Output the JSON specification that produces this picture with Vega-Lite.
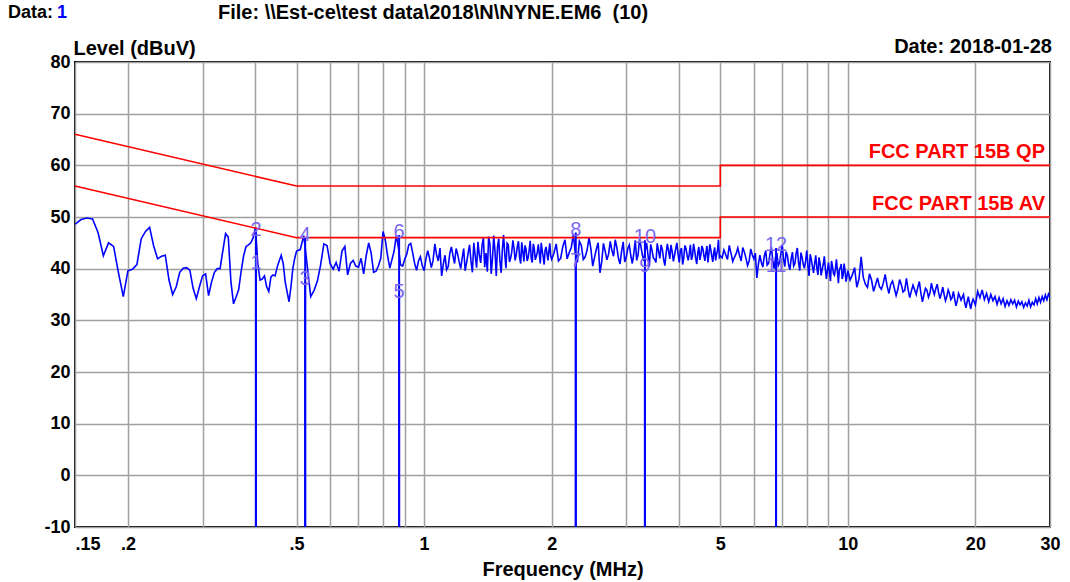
{
"$schema": "https://vega.github.io/schema/vega-lite/v6.json",
"width": 975, "height": 465,
"autosize": {"type": "none"},
"padding": {"left": 75, "top": 62, "right": 20, "bottom": 55},
"background": "white",
"config": {
  "font": "Liberation Sans",
  "view": {"stroke": "#000000", "strokeWidth": 2},
  "axis": {"gridColor": "#a0a0a0", "gridWidth": 1.5, "gridOpacity": 1, "ticks": false, "domain": false, "labelFont": "Liberation Sans", "labelFontSize": 18, "labelFontWeight": "bold", "labelColor": "#000000", "titleFont": "Liberation Sans", "titleFontSize": 20, "titleFontWeight": "bold", "titleColor": "#000000"}
},
"datasets": {
"trace": [
{"f":0.150,"v":48.6},{"f":0.155,"v":49.5},{"f":0.160,"v":49.8},{"f":0.165,"v":49.6},{"f":0.170,"v":47.0},{"f":0.175,"v":42.5},{"f":0.180,"v":45.0},{"f":0.185,"v":44.3},{"f":0.190,"v":39.2},{"f":0.195,"v":34.6},
{"f":0.200,"v":39.6},{"f":0.205,"v":39.9},{"f":0.210,"v":40.8},{"f":0.215,"v":45.8},{"f":0.220,"v":47.2},{"f":0.225,"v":48.0},{"f":0.230,"v":44.4},{"f":0.235,"v":41.9},{"f":0.240,"v":42.4},{"f":0.245,"v":42.6},
{"f":0.250,"v":37.8},{"f":0.255,"v":35.0},{"f":0.260,"v":36.5},{"f":0.265,"v":39.3},{"f":0.270,"v":40.1},{"f":0.275,"v":40.2},{"f":0.280,"v":39.7},{"f":0.285,"v":36.2},{"f":0.290,"v":34.2},{"f":0.295,"v":36.5},
{"f":0.300,"v":38.6},{"f":0.305,"v":39.0},{"f":0.310,"v":34.8},{"f":0.315,"v":37.4},{"f":0.320,"v":39.3},{"f":0.325,"v":40.0},{"f":0.330,"v":40.0},{"f":0.335,"v":43.5},{"f":0.340,"v":46.8},{"f":0.345,"v":46.1},
{"f":0.350,"v":37.5},{"f":0.355,"v":33.2},{"f":0.360,"v":34.5},{"f":0.365,"v":35.9},{"f":0.370,"v":39.5},{"f":0.375,"v":42.5},{"f":0.380,"v":44.3},{"f":0.385,"v":44.6},{"f":0.390,"v":45.0},{"f":0.395,"v":46.0},
{"f":0.400,"v":48.0},{"f":0.405,"v":41.0},{"f":0.410,"v":37.8},{"f":0.415,"v":38.0},{"f":0.420,"v":38.6},{"f":0.425,"v":36.5},{"f":0.430,"v":35.6},{"f":0.435,"v":38.4},{"f":0.440,"v":38.8},{"f":0.445,"v":38.6},
{"f":0.450,"v":40.3},{"f":0.455,"v":41.5},{"f":0.460,"v":42.6},{"f":0.465,"v":41.0},{"f":0.470,"v":37.5},{"f":0.475,"v":35.5},{"f":0.480,"v":33.6},{"f":0.485,"v":36.5},{"f":0.490,"v":40.0},{"f":0.495,"v":42.0},
{"f":0.500,"v":43.4},{"f":0.51,"v":43.7},{"f":0.52,"v":46.4},{"f":0.53,"v":40.5},{"f":0.54,"v":34.6},{"f":0.55,"v":35.8},{"f":0.56,"v":37.6},{"f":0.57,"v":40.8},{"f":0.58,"v":44.8},{"f":0.59,"v":44.5},
{"f":0.60,"v":41.0},{"f":0.61,"v":39.9},{"f":0.62,"v":41.2},{"f":0.63,"v":39.5},{"f":0.64,"v":43.4},{"f":0.65,"v":44.3},{"f":0.66,"v":38.8},{"f":0.67,"v":41.0},{"f":0.68,"v":41.6},{"f":0.69,"v":40.5},
{"f":0.70,"v":40.3},{"f":0.71,"v":42.0},{"f":0.72,"v":39.0},{"f":0.73,"v":42.5},{"f":0.74,"v":45.0},{"f":0.75,"v":43.0},{"f":0.76,"v":39.3},{"f":0.77,"v":39.5},{"f":0.78,"v":40.5},{"f":0.79,"v":42.0},
{"f":0.80,"v":47.2},{"f":0.81,"v":45.5},{"f":0.82,"v":42.5},{"f":0.83,"v":40.1},{"f":0.84,"v":41.8},{"f":0.85,"v":43.5},{"f":0.86,"v":46.5},{"f":0.87,"v":44.0},{"f":0.88,"v":40.7},{"f":0.89,"v":40.5},
{"f":0.90,"v":41.8},{"f":0.91,"v":42.8},{"f":0.92,"v":44.6},{"f":0.93,"v":44.9},{"f":0.94,"v":43.0},{"f":0.95,"v":41.0},{"f":0.96,"v":39.7},{"f":0.97,"v":41.5},{"f":0.98,"v":42.3},{"f":0.99,"v":40.6},
{"f":1.00,"v":39.6},{"f":1.02,"v":43.5},{"f":1.04,"v":40.2},{"f":1.06,"v":44.8},{"f":1.08,"v":41.5},{"f":1.10,"v":38.6},{"f":1.12,"v":42.6},{"f":1.14,"v":40.4},{"f":1.16,"v":44.2},{"f":1.18,"v":41.0},
{"f":1.20,"v":42.8},{"f":1.22,"v":40.0},{"f":1.24,"v":43.9},{"f":1.26,"v":41.2},{"f":1.28,"v":44.6},{"f":1.30,"v":39.3},{"f":1.32,"v":42.5},{"f":1.34,"v":45.2},{"f":1.36,"v":41.1},{"f":1.38,"v":46.0},
{"f":1.40,"v":43.0},{"f":1.42,"v":46.2},{"f":1.44,"v":39.0},{"f":1.46,"v":46.4},{"f":1.48,"v":38.6},{"f":1.50,"v":45.8},{"f":1.52,"v":39.2},{"f":1.54,"v":46.5},{"f":1.56,"v":40.1},{"f":1.58,"v":44.6},
{"f":1.60,"v":42.0},{"f":1.62,"v":45.5},{"f":1.64,"v":41.6},{"f":1.66,"v":44.3},{"f":1.68,"v":42.2},{"f":1.70,"v":45.1},{"f":1.72,"v":41.4},{"f":1.74,"v":43.8},{"f":1.76,"v":42.1},{"f":1.78,"v":45.4},
{"f":1.80,"v":41.2},{"f":1.82,"v":43.9},{"f":1.84,"v":42.4},{"f":1.86,"v":44.7},{"f":1.88,"v":41.0},{"f":1.90,"v":43.5},{"f":1.92,"v":40.8},{"f":1.94,"v":44.2},{"f":1.96,"v":41.6},{"f":1.98,"v":44.9},
{"f":2.00,"v":41.8},{"f":2.05,"v":44.8},{"f":2.10,"v":42.0},{"f":2.15,"v":45.6},{"f":2.20,"v":43.1},{"f":2.25,"v":46.6},{"f":2.30,"v":41.2},{"f":2.35,"v":44.5},{"f":2.40,"v":42.3},{"f":2.45,"v":46.0},
{"f":2.50,"v":40.5},{"f":2.55,"v":43.8},{"f":2.60,"v":39.2},{"f":2.65,"v":44.9},{"f":2.70,"v":41.7},{"f":2.75,"v":45.3},{"f":2.80,"v":42.4},{"f":2.85,"v":44.1},{"f":2.90,"v":40.9},{"f":2.95,"v":45.2},
{"f":3.00,"v":42.2},{"f":3.05,"v":44.6},{"f":3.10,"v":41.0},{"f":3.15,"v":45.5},{"f":3.20,"v":42.8},{"f":3.25,"v":44.2},{"f":3.30,"v":41.5},{"f":3.35,"v":45.0},{"f":3.40,"v":40.4},{"f":3.45,"v":43.6},
{"f":3.50,"v":41.8},{"f":3.55,"v":44.9},{"f":3.60,"v":42.0},{"f":3.65,"v":43.7},{"f":3.70,"v":40.6},{"f":3.75,"v":44.8},{"f":3.80,"v":41.9},{"f":3.85,"v":43.3},{"f":3.90,"v":42.6},{"f":3.95,"v":45.0},
{"f":4.00,"v":41.2},{"f":4.05,"v":44.0},{"f":4.10,"v":42.1},{"f":4.15,"v":43.9},{"f":4.20,"v":41.6},{"f":4.25,"v":44.6},{"f":4.30,"v":42.5},{"f":4.35,"v":43.5},{"f":4.40,"v":40.9},{"f":4.45,"v":44.2},
{"f":4.50,"v":42.7},{"f":4.55,"v":43.8},{"f":4.60,"v":41.5},{"f":4.65,"v":44.4},{"f":4.70,"v":42.9},{"f":4.75,"v":43.6},{"f":4.80,"v":41.3},{"f":4.85,"v":44.1},{"f":4.90,"v":42.8},{"f":4.95,"v":45.6},
{"f":5.00,"v":42.5},{"f":5.1,"v":43.6},{"f":5.2,"v":41.8},{"f":5.3,"v":43.0},{"f":5.4,"v":42.2},{"f":5.5,"v":44.0},{"f":5.6,"v":41.5},{"f":5.7,"v":43.2},{"f":5.8,"v":40.6},{"f":5.9,"v":43.8},
{"f":6.0,"v":41.9},{"f":6.1,"v":38.2},{"f":6.2,"v":42.6},{"f":6.3,"v":40.3},{"f":6.4,"v":43.5},{"f":6.5,"v":41.0},{"f":6.6,"v":44.2},{"f":6.7,"v":40.0},{"f":6.8,"v":43.0},{"f":6.9,"v":41.2},
{"f":7.0,"v":44.6},{"f":7.1,"v":40.4},{"f":7.2,"v":42.5},{"f":7.3,"v":39.8},{"f":7.4,"v":43.2},{"f":7.5,"v":41.0},{"f":7.6,"v":44.0},{"f":7.7,"v":39.6},{"f":7.8,"v":42.2},{"f":7.9,"v":40.1},
{"f":8.0,"v":43.5},{"f":8.1,"v":38.6},{"f":8.2,"v":41.8},{"f":8.3,"v":39.2},{"f":8.4,"v":42.6},{"f":8.5,"v":38.8},{"f":8.6,"v":41.0},{"f":8.7,"v":39.9},{"f":8.8,"v":42.4},{"f":8.9,"v":38.0},
{"f":9.0,"v":41.2},{"f":9.1,"v":37.6},{"f":9.2,"v":40.5},{"f":9.3,"v":38.7},{"f":9.4,"v":41.8},{"f":9.5,"v":37.2},{"f":9.6,"v":40.2},{"f":9.7,"v":38.0},{"f":9.8,"v":41.0},{"f":9.9,"v":37.5},
{"f":10.0,"v":39.6},{"f":10.25,"v":38.8},{"f":10.5,"v":36.4},{"f":10.75,"v":42.3},{"f":11.0,"v":37.0},{"f":11.25,"v":39.0},{"f":11.5,"v":35.6},{"f":11.75,"v":38.2},{"f":12.0,"v":36.0},{"f":12.25,"v":38.9},
{"f":12.5,"v":35.2},{"f":12.75,"v":37.6},{"f":13.0,"v":34.8},{"f":13.25,"v":37.9},{"f":13.5,"v":35.5},{"f":13.75,"v":38.1},{"f":14.0,"v":34.4},{"f":14.25,"v":36.8},{"f":14.5,"v":35.0},{"f":14.75,"v":37.5},
{"f":15.0,"v":33.6},{"f":15.25,"v":36.2},{"f":15.5,"v":34.5},{"f":15.75,"v":37.2},{"f":16.0,"v":35.0},{"f":16.25,"v":37.0},{"f":16.5,"v":34.2},{"f":16.75,"v":36.4},{"f":17.0,"v":33.8},{"f":17.25,"v":35.9},
{"f":17.5,"v":34.0},{"f":17.75,"v":35.6},{"f":18.0,"v":32.8},{"f":18.25,"v":35.2},{"f":18.5,"v":33.9},{"f":18.75,"v":35.0},{"f":19.0,"v":32.4},{"f":19.25,"v":34.6},{"f":19.5,"v":32.2},{"f":19.75,"v":34.1},
{"f":20.0,"v":33.0},{"f":20.25,"v":35.6},{"f":20.5,"v":34.4},{"f":20.75,"v":35.9},{"f":21.0,"v":34.0},{"f":21.25,"v":35.2},{"f":21.5,"v":33.6},{"f":21.75,"v":35.0},{"f":22.0,"v":33.8},{"f":22.25,"v":34.6},
{"f":22.5,"v":33.1},{"f":22.75,"v":34.4},{"f":23.0,"v":33.2},{"f":23.25,"v":34.2},{"f":23.5,"v":32.7},{"f":23.75,"v":33.8},{"f":24.0,"v":32.9},{"f":24.25,"v":34.0},{"f":24.5,"v":33.2},{"f":24.75,"v":33.9},
{"f":25.0,"v":32.6},{"f":25.25,"v":33.7},{"f":25.5,"v":33.0},{"f":25.75,"v":33.6},{"f":26.0,"v":32.5},{"f":26.25,"v":33.4},{"f":26.5,"v":32.8},{"f":26.75,"v":33.9},{"f":27.0,"v":32.6},{"f":27.25,"v":33.5},
{"f":27.5,"v":33.0},{"f":27.75,"v":34.2},{"f":28.0,"v":33.2},{"f":28.25,"v":34.4},{"f":28.5,"v":33.5},{"f":28.75,"v":34.6},{"f":29.0,"v":33.8},{"f":29.25,"v":34.9},{"f":29.5,"v":34.0},{"f":29.75,"v":35.1},
{"f":30.0,"v":34.5},
{"f":1.01,"v":41.9},{"f":1.03,"v":42.0},{"f":1.05,"v":41.6},{"f":1.07,"v":42.7},{"f":1.09,"v":44.0},{"f":1.11,"v":40.9},{"f":1.13,"v":39.8},{"f":1.15,"v":43.0},{"f":1.17,"v":42.5},{"f":1.19,"v":43.9},
{"f":1.21,"v":41.3},{"f":1.23,"v":42.1},{"f":1.25,"v":39.6},{"f":1.27,"v":43.0},{"f":1.29,"v":41.5},{"f":1.31,"v":45.0},{"f":1.33,"v":40.2},{"f":1.35,"v":42.6},{"f":1.37,"v":44.5},{"f":1.39,"v":40.3},
{"f":1.41,"v":39.4},{"f":1.43,"v":44.8},{"f":1.45,"v":42.0},{"f":1.47,"v":43.3},{"f":1.49,"v":44.2},{"f":1.51,"v":41.4},{"f":1.53,"v":43.7},{"f":1.55,"v":42.8},{"f":1.57,"v":44.9},{"f":1.59,"v":41.3},
{"f":1.61,"v":43.2},{"f":1.63,"v":44.0},{"f":1.65,"v":42.7},{"f":1.67,"v":45.3},{"f":1.69,"v":41.0},{"f":1.71,"v":43.3},{"f":1.73,"v":44.5},{"f":1.75,"v":41.5},{"f":1.77,"v":43.6},{"f":1.79,"v":42.0},
{"f":1.81,"v":44.8},{"f":1.83,"v":41.7},{"f":1.85,"v":43.2},{"f":1.87,"v":42.9},{"f":1.89,"v":45.0},{"f":1.91,"v":42.3},{"f":1.93,"v":43.6},{"f":1.95,"v":42.9},{"f":1.97,"v":43.4},{"f":1.99,"v":42.5},
{"f":2.025,"v":43.0},{"f":2.075,"v":41.5},{"f":2.125,"v":44.3},{"f":2.175,"v":41.9},{"f":2.225,"v":44.1},{"f":2.275,"v":43.0},{"f":2.325,"v":45.3},{"f":2.375,"v":41.8},{"f":2.425,"v":43.6},{"f":2.475,"v":43.9},
{"f":2.525,"v":42.2},{"f":2.575,"v":45.0},{"f":2.625,"v":41.3},{"f":2.675,"v":43.4},{"f":2.725,"v":42.8},{"f":2.775,"v":43.5},{"f":2.825,"v":45.6},{"f":2.875,"v":42.0},{"f":2.925,"v":43.4},{"f":2.975,"v":41.3},
{"f":3.025,"v":43.9},{"f":3.075,"v":42.5},{"f":3.125,"v":42.9},{"f":3.175,"v":41.6},{"f":3.225,"v":45.8},{"f":3.275,"v":42.6},{"f":3.325,"v":43.6},{"f":3.375,"v":42.7},{"f":3.425,"v":44.7},{"f":3.475,"v":42.1},
{"f":3.525,"v":41.2},{"f":3.575,"v":43.4},{"f":3.625,"v":44.6},{"f":3.675,"v":41.8},{"f":3.725,"v":42.9},{"f":3.775,"v":43.5},{"f":3.825,"v":44.6},{"f":3.875,"v":41.4},{"f":3.925,"v":43.9},{"f":3.975,"v":42.8},
{"f":4.025,"v":43.5},{"f":4.075,"v":40.8},{"f":4.125,"v":44.5},{"f":4.175,"v":42.6},{"f":4.225,"v":42.9},{"f":4.275,"v":41.7},{"f":4.325,"v":44.8},{"f":4.375,"v":42.0},{"f":4.425,"v":43.1},{"f":4.475,"v":41.7},
{"f":4.525,"v":44.4},{"f":4.575,"v":42.5},{"f":4.625,"v":43.1},{"f":4.675,"v":41.2},{"f":4.725,"v":44.7},{"f":4.775,"v":42.4},{"f":4.825,"v":43.0},{"f":4.875,"v":41.6},{"f":4.925,"v":43.5},{"f":4.975,"v":42.2},
{"f":5.05,"v":42.1},{"f":5.15,"v":42.7},{"f":5.25,"v":44.5},{"f":5.35,"v":41.4},{"f":5.45,"v":42.9},{"f":5.55,"v":42.6},{"f":5.65,"v":44.1},{"f":5.75,"v":42.0},{"f":5.85,"v":41.5},{"f":5.95,"v":42.7},
{"f":6.05,"v":43.0},{"f":6.15,"v":40.8},{"f":6.25,"v":41.2},{"f":6.35,"v":42.4},{"f":6.45,"v":40.7},{"f":6.55,"v":42.8},{"f":6.65,"v":41.6},{"f":6.75,"v":42.2},{"f":6.85,"v":40.6},{"f":6.95,"v":42.8},
{"f":7.05,"v":41.9},{"f":7.15,"v":43.3},{"f":7.25,"v":40.7},{"f":7.35,"v":41.9},{"f":7.45,"v":40.5},{"f":7.55,"v":42.9},{"f":7.65,"v":41.2},{"f":7.75,"v":43.1},{"f":7.85,"v":40.8},{"f":7.95,"v":41.5},
{"f":8.05,"v":40.6},{"f":8.15,"v":42.8},{"f":8.25,"v":40.4},{"f":8.35,"v":41.0},{"f":8.45,"v":40.1},{"f":8.55,"v":42.2},{"f":8.65,"v":38.7},{"f":8.75,"v":40.8},{"f":8.85,"v":40.0},{"f":8.95,"v":39.6},
{"f":9.05,"v":39.4},{"f":9.15,"v":41.5},{"f":9.25,"v":39.0},{"f":9.35,"v":40.0},{"f":9.45,"v":39.5},{"f":9.55,"v":39.8},{"f":9.65,"v":40.9},{"f":9.75,"v":38.8},{"f":9.85,"v":39.6},{"f":9.95,"v":38.4},
{"f":10.125,"v":37.8},{"f":10.375,"v":40.2},{"f":10.625,"v":38.0},{"f":10.875,"v":38.3},{"f":11.125,"v":36.4},{"f":11.375,"v":37.8},{"f":11.625,"v":36.9},{"f":11.875,"v":36.5},{"f":12.125,"v":37.2},{"f":12.375,"v":36.7},
{"f":12.625,"v":37.0},{"f":12.875,"v":36.2},{"f":13.125,"v":36.0},{"f":13.375,"v":36.9},{"f":13.625,"v":35.8},{"f":13.875,"v":36.0},{"f":14.125,"v":35.7},{"f":14.375,"v":35.9},{"f":14.625,"v":36.4},{"f":14.875,"v":35.2},
{"f":15.125,"v":35.0},{"f":15.375,"v":35.8},{"f":15.625,"v":35.3},{"f":15.875,"v":35.9},{"f":16.125,"v":36.1},{"f":16.375,"v":35.4},{"f":16.625,"v":35.2},{"f":16.875,"v":35.0},{"f":17.125,"v":34.6},{"f":17.375,"v":35.2},
{"f":17.625,"v":34.4},{"f":17.875,"v":34.1},{"f":18.125,"v":33.8},{"f":18.375,"v":34.6},{"f":18.625,"v":34.5},{"f":18.875,"v":33.4},{"f":19.125,"v":33.6},{"f":19.375,"v":33.3},{"f":19.625,"v":33.4},{"f":19.875,"v":33.6}
],
"limits": [
{"s":"QP","i":0,"f":0.15,"v":66},{"s":"QP","i":1,"f":0.5,"v":56},{"s":"QP","i":2,"f":5,"v":56},{"s":"QP","i":3,"f":5,"v":60},{"s":"QP","i":4,"f":30,"v":60},
{"s":"AV","i":0,"f":0.15,"v":56},{"s":"AV","i":1,"f":0.5,"v":46},{"s":"AV","i":2,"f":5,"v":46},{"s":"AV","i":3,"f":5,"v":50},{"s":"AV","i":4,"f":30,"v":50}
],
"markers": [
{"n":"1","f":0.401,"v":40.5},{"n":"2","f":0.401,"v":47.0},
{"n":"3","f":0.524,"v":37.5},{"n":"4","f":0.524,"v":46.0},
{"n":"5","f":0.873,"v":35.0},{"n":"6","f":0.873,"v":46.5},
{"n":"7","f":2.28,"v":41.0},{"n":"8","f":2.28,"v":47.0},
{"n":"9","f":3.32,"v":40.0},{"n":"10","f":3.32,"v":45.5},
{"n":"11","f":6.77,"v":40.0},{"n":"12","f":6.77,"v":44.0}
],
"limitLabels": [
{"t":"FCC PART 15B QP","f":30,"v":60},
{"t":"FCC PART 15B AV","f":30,"v":50}
]
},
"layer": [
{
  "data": {"name": "trace"},
  "mark": {"type": "line", "color": "#0000ff", "strokeWidth": 1.6, "clip": true},
  "encoding": {
    "x": {"field": "f", "type": "quantitative",
      "scale": {"type": "log", "domain": [0.15, 30], "nice": false},
      "axis": {"values": [0.15,0.2,0.3,0.4,0.5,0.6,0.7,0.8,0.9,1,2,3,4,5,6,7,8,9,10,20,30],
        "labelExpr": "indexof([0.15,0.2,0.5,1,2,5,10,20,30], datum.value) >= 0 ? (datum.value < 1 ? replace(format(datum.value, '~g'), '0.', '.') : format(datum.value, '~g')) : ''",
        "labelAlign": {"condition": {"test": "datum.value == 0.15", "value": "left"}, "value": "center"},
        "labelPadding": 8, "labelOverlap": false, "labelBound": false,
        "title": "Frequency (MHz)", "titlePadding": 6}},
    "y": {"field": "v", "type": "quantitative",
      "scale": {"domain": [-10, 80], "nice": false, "zero": false},
      "axis": {"values": [-10,0,10,20,30,40,50,60,70,80], "labelPadding": 5,
        "labelExpr": "toString(datum.value)",
        "title": "Level (dBuV)", "titleAngle": 0, "titleAlign": "left", "titleBaseline": "bottom", "titleX": -2, "titleY": -4}}
  }
},
{
  "data": {"name": "limits"},
  "mark": {"type": "line", "color": "#ff0000", "strokeWidth": 1.6},
  "encoding": {
    "x": {"field": "f", "type": "quantitative"},
    "y": {"field": "v", "type": "quantitative"},
    "detail": {"field": "s"},
    "order": {"field": "i"}
  }
},
{
  "data": {"name": "markers"},
  "mark": {"type": "rule", "color": "#0000ff", "strokeWidth": 2},
  "encoding": {
    "x": {"field": "f", "type": "quantitative"},
    "y": {"field": "v", "type": "quantitative"},
    "y2": {"datum": -10}
  }
},
{
  "data": {"name": "markers"},
  "mark": {"type": "text", "color": "#7b68ee", "fontSize": 20, "baseline": "middle", "align": "center", "dy": -3},
  "encoding": {
    "x": {"field": "f", "type": "quantitative"},
    "y": {"field": "v", "type": "quantitative"},
    "text": {"field": "n"}
  }
},
{
  "data": {"name": "limitLabels"},
  "mark": {"type": "text", "color": "#ff0000", "fontSize": 20, "fontWeight": "bold", "align": "right", "baseline": "bottom", "dx": -5, "dy": -3},
  "encoding": {
    "x": {"field": "f", "type": "quantitative"},
    "y": {"field": "v", "type": "quantitative"},
    "text": {"field": "t"}
  }
},
{
  "data": {"values": [{"t": "Data:"}]},
  "mark": {"type": "text", "color": "#000000", "fontSize": 18, "fontWeight": "bold", "align": "left", "baseline": "middle", "dx": -67, "dy": -49},
  "encoding": {"x": {"datum": 0.15}, "y": {"datum": 80}, "text": {"field": "t"}}
},
{
  "data": {"values": [{"t": "1"}]},
  "mark": {"type": "text", "color": "#0000ff", "fontSize": 18, "fontWeight": "bold", "align": "left", "baseline": "middle", "dx": -18, "dy": -49},
  "encoding": {"x": {"datum": 0.15}, "y": {"datum": 80}, "text": {"field": "t"}}
},
{
  "data": {"values": [{"t": "File: \\\\Est-ce\\test data\\2018\\N\\NYNE.EM6 \u00a0(10)"}]},
  "mark": {"type": "text", "color": "#000000", "fontSize": 20, "fontWeight": "bold", "align": "left", "baseline": "middle", "dx": 143, "dy": -49},
  "encoding": {"x": {"datum": 0.15}, "y": {"datum": 80}, "text": {"field": "t"}}
},
{
  "data": {"values": [{"t": "Date: 2018-01-28"}]},
  "mark": {"type": "text", "color": "#000000", "fontSize": 20, "fontWeight": "bold", "align": "right", "baseline": "bottom", "dx": 2, "dy": -5},
  "encoding": {"x": {"datum": 30}, "y": {"datum": 80}, "text": {"field": "t"}}
}
]
}
